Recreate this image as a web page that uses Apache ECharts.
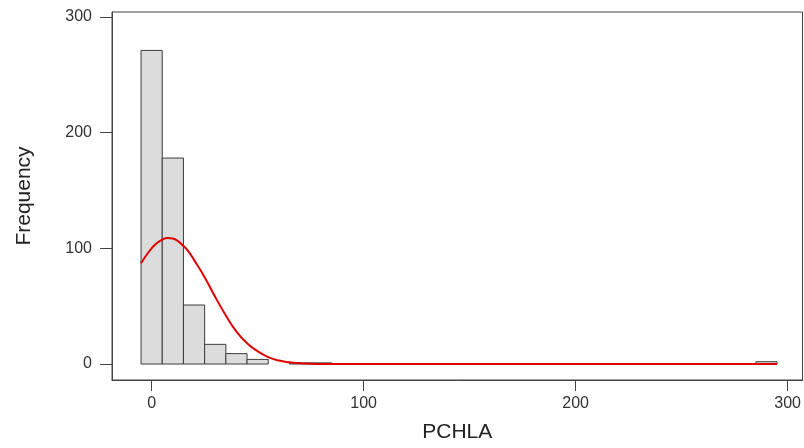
<!DOCTYPE html>
<html>
<head>
<meta charset="utf-8">
<script src="https://cdn.jsdelivr.net/npm/echarts@6/dist/echarts.min.js"></script>
<style>
html,body{margin:0;padding:0;background:#fff;}
#chart{width:804px;height:448px;}
</style>
</head>
<body>
<div id="chart"></div>
<script>
// Histogram bins (centers) and counts
const binCenters = [0, 10, 20, 30, 40, 50, 70, 80, 290];
const binCounts  = [271, 178, 51, 17, 9, 4, 1, 1, 2];
const binWidth = 10;

// Fitted normal curve
const curveX = [-5, -2.5, 0, 2.5, 5, 7.5, 10, 12.5, 15, 17.5, 20, 25, 30, 35, 40, 45, 50, 55, 60, 65, 70, 75, 80, 90, 120, 200, 295];
const curveY = [87, 94, 100, 104.5, 107.5, 109, 108.5, 106, 102, 97, 90, 75, 58, 42, 28, 18, 11, 6, 3, 1.5, 0.7, 0.3, 0.1, 0, 0, 0, 0];

// Tick labels
const xTicks = [0, 100, 200, 300];
const yTicks = [0, 100, 200, 300];

const font = "'Liberation Sans', Arial, sans-serif";
const chart = echarts.init(document.getElementById('chart'));

chart.setOption({
  animation: false,
  backgroundColor: '#fff',
  grid: {
    left: 112, top: 12, right: 1, bottom: 68,
    show: true, borderColor: '#444', borderWidth: 1, backgroundColor: 'transparent'
  },
  xAxis: {
    type: 'value',
    min: -18.7, max: 307,
    name: 'PCHLA',
    nameLocation: 'middle',
    nameGap: 42,
    nameTextStyle: { fontFamily: font, fontSize: 21, color: '#222' },
    axisLine: { show: true, onZero: false, lineStyle: { color: '#444', width: 1 } },
    axisTick: { show: true, length: 11, customValues: xTicks, lineStyle: { color: '#444' } },
    axisLabel: { customValues: xTicks, margin: 16, fontFamily: font, fontSize: 16, color: '#333' },
    splitLine: { show: false }
  },
  yAxis: {
    type: 'value',
    min: -13.8, max: 304.2,
    name: 'Frequency',
    nameLocation: 'middle',
    nameGap: 77,
    nameRotate: 90,
    nameTextStyle: { fontFamily: font, fontSize: 21, color: '#222' },
    axisLine: { show: true, onZero: false, lineStyle: { color: '#444', width: 1 } },
    axisTick: { show: true, length: 12, customValues: yTicks, lineStyle: { color: '#444' } },
    axisLabel: { customValues: yTicks, margin: 20, fontFamily: font, fontSize: 16, color: '#333' },
    splitLine: { show: false }
  },
  series: [
    {
      type: 'custom',
      data: binCenters.map((c, i) => [c, binCounts[i]]),
      renderItem: function (params, api) {
        const c = api.value(0), v = api.value(1);
        const p0 = api.coord([c - binWidth / 2, v]);
        const p1 = api.coord([c + binWidth / 2, 0]);
        return {
          type: 'rect',
          shape: { x: p0[0], y: p0[1], width: p1[0] - p0[0], height: p1[1] - p0[1] },
          style: { fill: '#dcdcdc', stroke: '#3c3c3c', lineWidth: 1 }
        };
      },
      z: 2
    },
    {
      type: 'line',
      data: curveX.map((x, i) => [x, curveY[i]]),
      smooth: true,
      showSymbol: false,
      symbol: 'none',
      lineStyle: { color: '#e00000', width: 2 },
      z: 3
    }
  ]
});
</script>
</body>
</html>
